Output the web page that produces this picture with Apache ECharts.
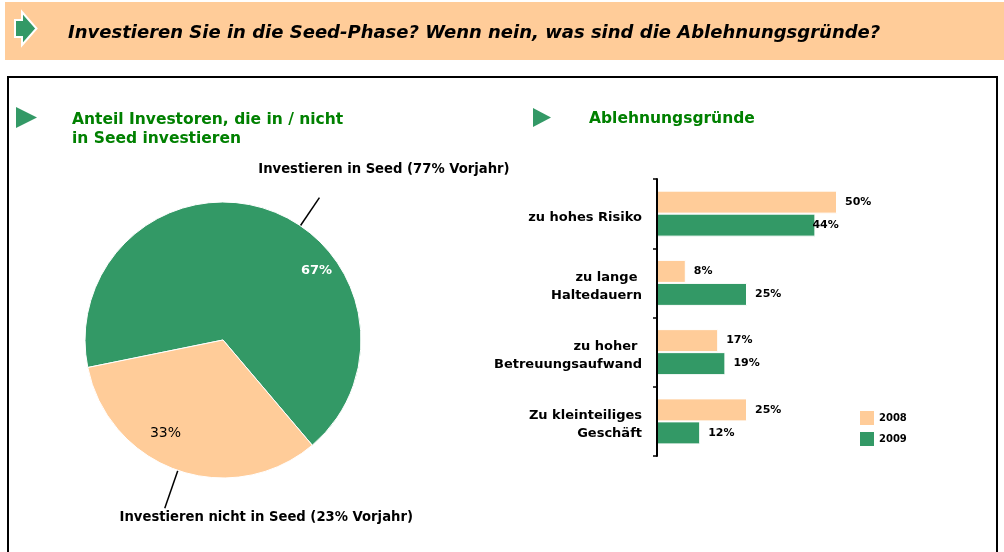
<!DOCTYPE html>
<html>
<head>
<meta charset="utf-8">
<script src="https://cdn.jsdelivr.net/npm/echarts@6/dist/echarts.min.js"></script>
<style>
  html, body { margin: 0; padding: 0; background: #fff; }
  #chart { width: 1004px; height: 552px; }
</style>
</head>
<body>
<div id="chart"></div>
<script>
// data
const pieNames = ['Investieren in Seed (77% Vorjahr)', 'Investieren nicht in Seed (23% Vorjahr)']
const pieValues = [67, 33]
const reasons = ['zu hohes Risiko', 'zu lange \nHaltedauern', 'zu hoher \nBetreuungsaufwand', 'Zu kleinteiliges\nGeschäft']
const years = ['2008', '2009']
const values2008 = [50, 8, 17, 25]
const values2009 = [44, 25, 19, 12]

// styles
const GREEN = '#339966'
const ORANGE = '#FFCC99'
const TITLE_GREEN = '#008000'
const FONT = '"DejaVu Sans", Verdana, sans-serif'
const PIE_CENTER = [223, 340]
const pieColors = [GREEN, ORANGE]
const insideLabelStyle = [
  { color: '#fff', fontWeight: 'bold', fontSize: 13 },
  { color: '#000', fontWeight: 'normal', fontSize: 14 }
]
const insideLabelShift = [[70, -1], [-34, 25]]   // Excel placed these off the slice middles
const leaderLength = [34, 40]
const leaderTurn = [-15, 0]                        // degrees, green leader sits right of the middle
const outerLabelShift = [[64.5, -28], [101.5, 9]]
const label2009Offset = [[-11, 0], null, null, null]

const chart = echarts.init(document.getElementById('chart'))

const barLabel = {
  show: true,
  position: 'right',
  distance: 8,
  formatter: '{c}%',
  fontFamily: FONT,
  fontWeight: 'bold',
  fontSize: 11,
  color: '#000'
}

const turn = (pt, deg) => {
  const a = -deg * Math.PI / 180
  const dx = pt[0] - PIE_CENTER[0]
  const dy = pt[1] - PIE_CENTER[1]
  return [
    PIE_CENTER[0] + dx * Math.cos(a) - dy * Math.sin(a),
    PIE_CENTER[1] + dx * Math.sin(a) + dy * Math.cos(a)
  ]
}

chart.setOption({
  animation: false,
  backgroundColor: '#fff',
  graphic: [
    { type: 'rect', shape: { x: 5, y: 2, width: 999, height: 58 }, style: { fill: ORANGE } },
    {
      type: 'polygon',
      shape: { points: [[15, 20], [22, 20], [22, 12], [36.5, 28.5], [22, 45], [22, 37], [15, 37]] },
      style: { fill: GREEN, stroke: '#fff', lineWidth: 2, lineJoin: 'miter' }
    },
    {
      type: 'text', x: 68, y: 33,
      style: {
        text: 'Investieren Sie in die Seed-Phase? Wenn nein, was sind die Ablehnungsgründe?',
        font: 'italic bold 18px ' + FONT, fill: '#000', verticalAlign: 'middle'
      }
    },
    {
      type: 'rect', shape: { x: 8, y: 77, width: 989, height: 500 },
      style: { fill: 'none', stroke: '#000', lineWidth: 2 }
    },
    { type: 'polygon', shape: { points: [[16, 107], [37, 117.5], [16, 128]] }, style: { fill: GREEN } },
    { type: 'polygon', shape: { points: [[533, 108], [551, 117.5], [533, 127]] }, style: { fill: GREEN } },
    {
      type: 'text', x: 72, y: 110,
      style: {
        text: 'Anteil Investoren, die in / nicht\nin Seed investieren',
        font: 'bold 15.5px ' + FONT, lineHeight: 19, fill: TITLE_GREEN, verticalAlign: 'top'
      }
    },
    {
      type: 'text', x: 589, y: 119,
      style: {
        text: 'Ablehnungsgründe',
        font: 'bold 15.5px ' + FONT, fill: TITLE_GREEN, verticalAlign: 'middle'
      }
    }
  ],
  legend: {
    data: years,
    orient: 'vertical',
    left: 860,
    top: 411,
    padding: 0,
    icon: 'rect',
    itemWidth: 14,
    itemHeight: 14,
    itemGap: 7,
    itemStyle: { borderWidth: 0 },
    textStyle: { fontFamily: FONT, fontWeight: 'bold', fontSize: 10, color: '#000' }
  },
  grid: { left: 657, top: 179, width: 324, height: 277 },
  xAxis: { type: 'value', min: 0, max: 90, show: false },
  yAxis: {
    type: 'category',
    data: reasons,
    inverse: true,
    z: 5,
    axisLine: { show: true, lineStyle: { color: '#000', width: 2 } },
    axisTick: { show: true, inside: false, length: 4, lineStyle: { color: '#000', width: 1.5 } },
    axisLabel: {
      margin: 15,
      fontFamily: FONT,
      fontWeight: 'bold',
      fontSize: 13,
      lineHeight: 18,
      color: '#000',
      align: 'right',
      // a thin empty first line pushes the text a little below the band centre, as in the original
      formatter: (v) => '{gap| }\n' + v,
      rich: { gap: { fontSize: 1, lineHeight: 7 } }
    },
    splitLine: { show: false }
  },
  series: [
    {
      type: 'pie',
      center: PIE_CENTER,
      radius: 138,
      startAngle: 191.5,
      clockwise: true,
      data: pieNames.map((n, i) => ({
        name: n,
        value: pieValues[i],
        itemStyle: { color: pieColors[i] },
        label: insideLabelStyle[i]
      })),
      itemStyle: { borderColor: '#fff', borderWidth: 1 },
      label: {
        position: 'inside',
        formatter: '{c}%',
        fontFamily: FONT
      },
      labelLine: { show: false },
      labelLayout: (p) => {
        const s = insideLabelShift[p.dataIndex]
        return {
          x: p.labelRect.x + p.labelRect.width / 2 + s[0],
          y: p.labelRect.y + p.labelRect.height / 2 + s[1],
          align: 'center',
          verticalAlign: 'middle'
        }
      }
    },
    {
      type: 'pie',
      silent: true,
      center: PIE_CENTER,
      radius: 138,
      startAngle: 191.5,
      clockwise: true,
      data: pieNames.map((n, i) => ({
        name: n,
        value: pieValues[i],
        labelLine: { length: leaderLength[i] }
      })),
      itemStyle: { color: 'rgba(0,0,0,0)', borderWidth: 0 },
      label: {
        position: 'outside',
        formatter: '{b}',
        overflow: 'none',
        fontFamily: FONT,
        fontWeight: 'bold',
        fontSize: 13.2,
        color: '#000'
      },
      labelLine: { show: true, length2: 0, lineStyle: { color: '#000', width: 1.5 } },
      labelLayout: (p) => {
        const pts = p.labelLinePoints.map(pt => turn(pt, leaderTurn[p.dataIndex]))
        const end = pts[pts.length - 1]
        const s = outerLabelShift[p.dataIndex]
        return {
          x: end[0] + s[0],
          y: end[1] + s[1],
          align: 'center',
          verticalAlign: 'middle',
          labelLinePoints: pts
        }
      }
    },
    {
      type: 'bar',
      name: years[0],
      data: values2008,
      barWidth: 23,
      barGap: '0%',
      itemStyle: { color: ORANGE, borderColor: '#fff', borderWidth: 1 },
      label: barLabel
    },
    {
      type: 'bar',
      name: years[1],
      data: values2009.map((v, i) => (label2009Offset[i] ? { value: v, label: { offset: label2009Offset[i] } } : v)),
      barWidth: 23,
      barGap: '0%',
      itemStyle: { color: GREEN, borderColor: '#fff', borderWidth: 1 },
      label: barLabel
    }
  ]
})
</script>
</body>
</html>
